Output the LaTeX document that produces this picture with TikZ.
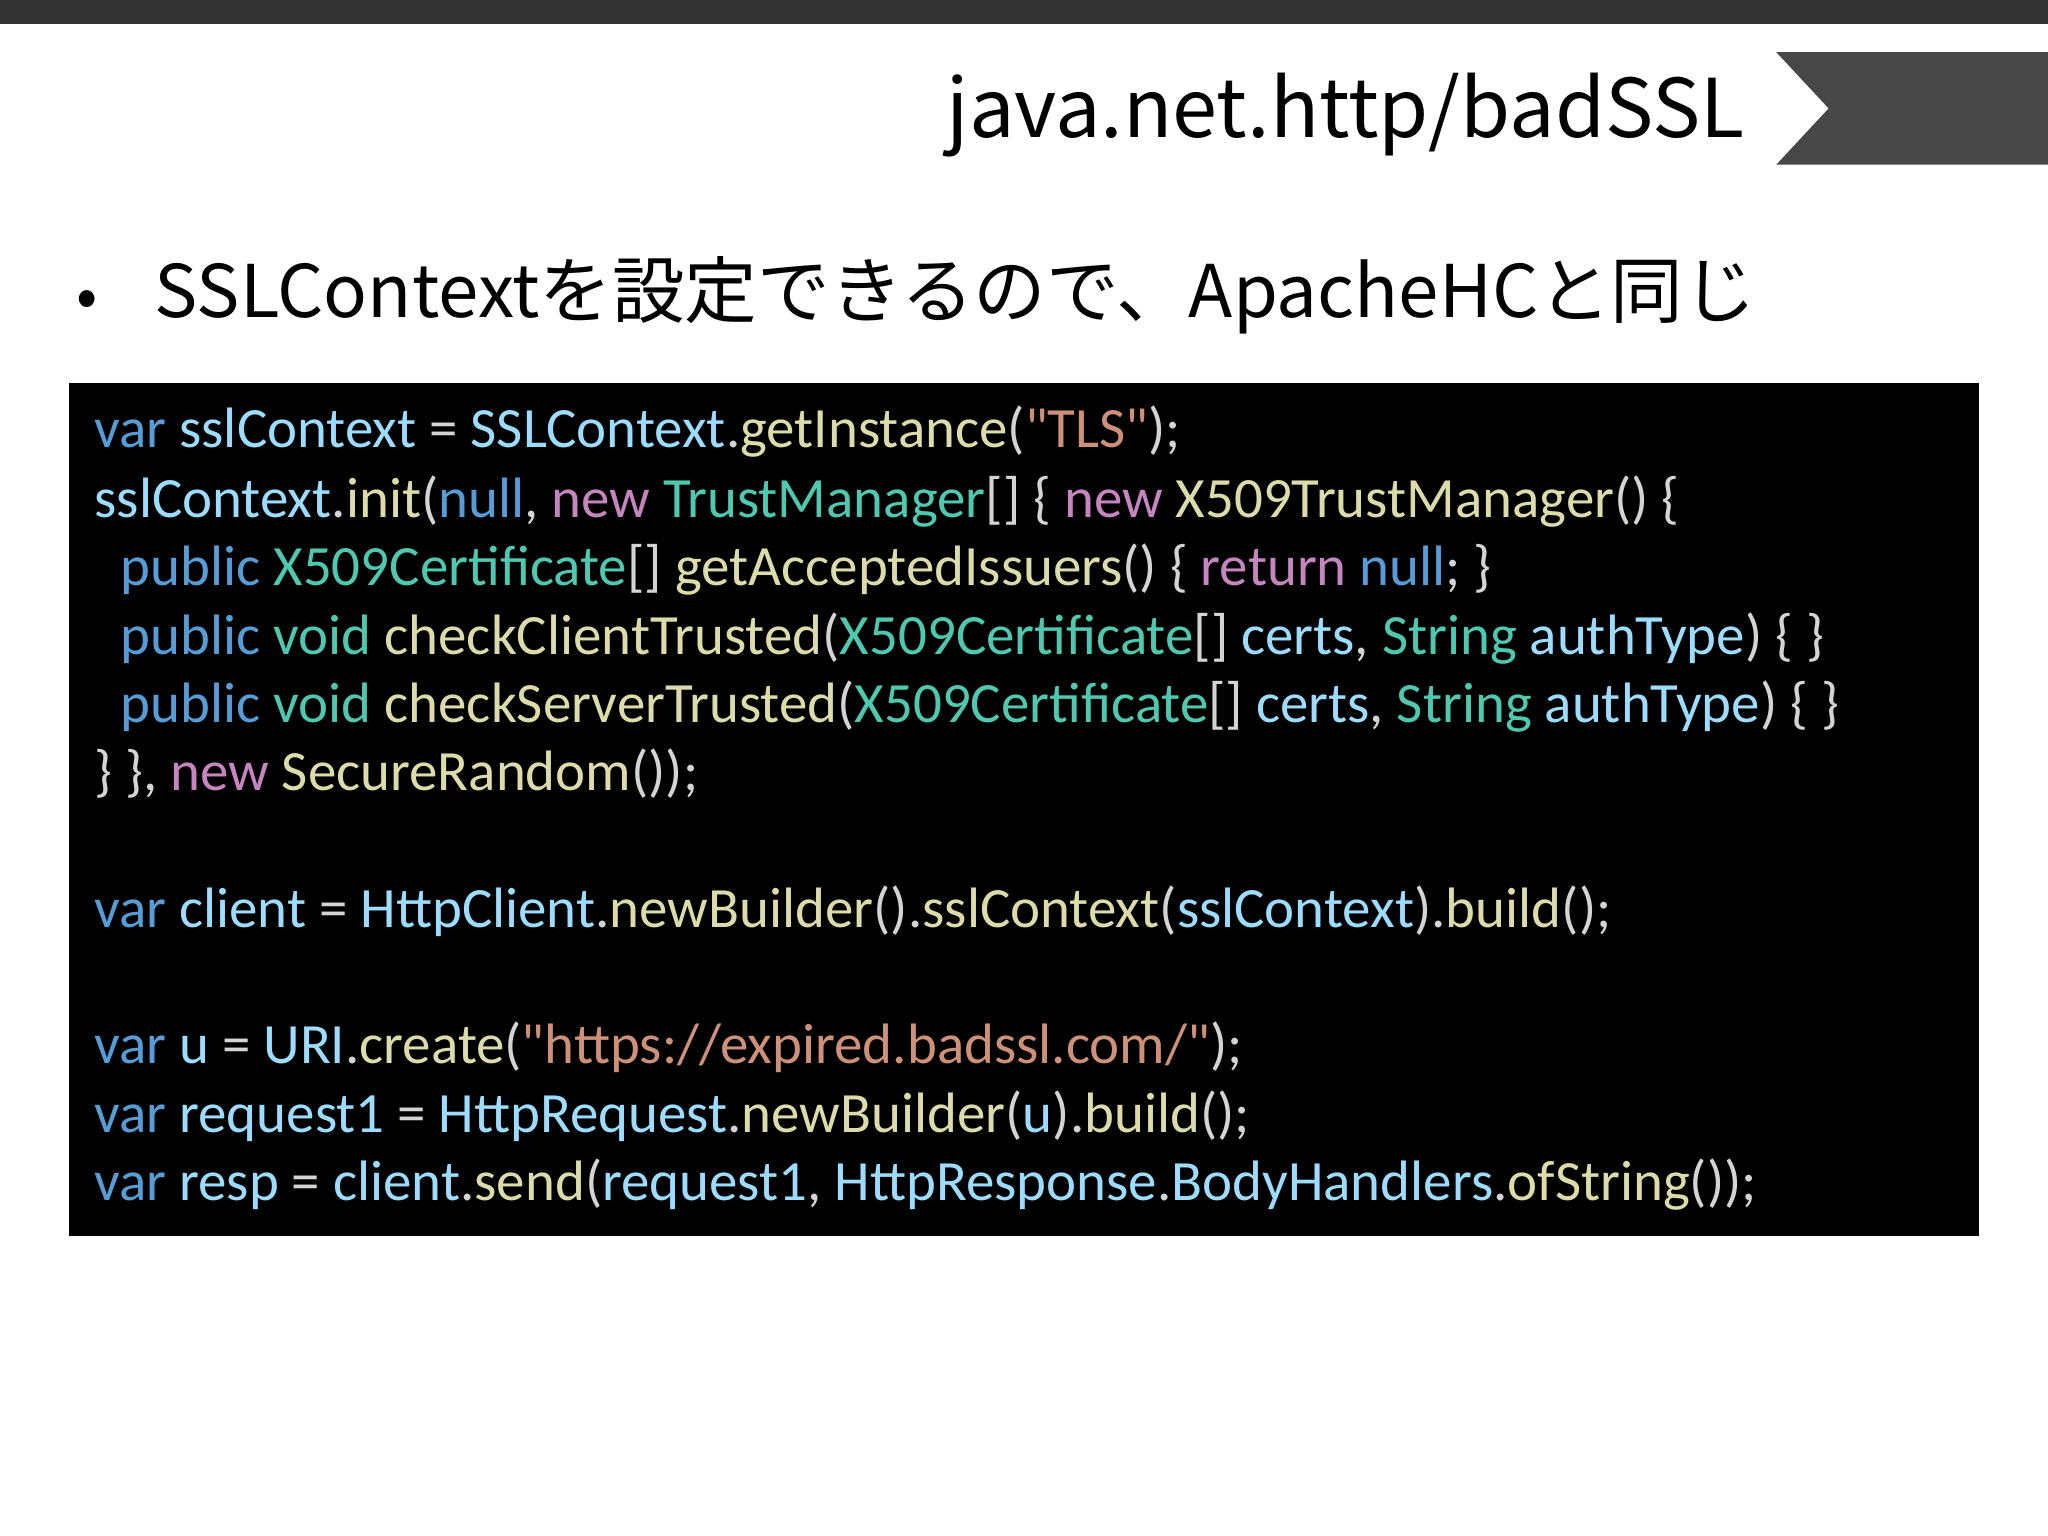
\documentclass[tikz,border=0pt]{standalone}
\usepackage{fontspec}
\newfontfamily\jp{Noto Sans CJK JP}
\newfontfamily\code{Carlito}
\definecolor{kw}{HTML}{569CD6}
\definecolor{pk}{HTML}{C586C0}
\definecolor{ty}{HTML}{4EC9B0}
\definecolor{fn}{HTML}{DCDCAA}
\definecolor{vr}{HTML}{9CDCFE}
\definecolor{st}{HTML}{CE9178}
\definecolor{pu}{HTML}{D4D4D4}
\newcommand\cK[1]{\textcolor{kw}{#1}}
\newcommand\cP[1]{\textcolor{pk}{#1}}
\newcommand\cT[1]{\textcolor{ty}{#1}}
\newcommand\cF[1]{\textcolor{fn}{#1}}
\newcommand\cV[1]{\textcolor{vr}{#1}}
\newcommand\cS[1]{\textcolor{st}{#1}}
\begin{document}
\begin{tikzpicture}[x=0.5pt,y=-0.5pt,
  cl/.style={anchor=base west,inner sep=0pt,font=\code\fontsize{21.8}{26}\selectfont,text=pu}]
\useasboundingbox (0,0) rectangle (1568,1176);
\fill[white] (0,0) rectangle (1568,1176);
\fill[black!80] (0,0) rectangle (1568,18);
\fill[black!72] (1360,40) -- (1568,40) -- (1568,126) -- (1360,126) -- (1400,83) -- cycle;
\node[anchor=base east,inner sep=0pt,font=\jp\fontsize{31}{36}\selectfont] (title) at (1336,105) {java.net.http/badSSL};
\node[anchor=base west,inner sep=0pt,font=\jp\fontsize{24}{30}\selectfont] (bul) at (58,243) {•};
\node[anchor=base west,inner sep=0pt,font=\jp\fontsize{27.8}{32}\selectfont] (txt) at (118,243) {SSLContextを設定できるので、ApacheHCと同じ};
\fill[black] (53,293) rectangle (1515,946);
\node[cl] (l1) at (72,343) {\cK{var} \cV{sslContext} = \cV{SSLContext}.\cF{getInstance}(\cS{"TLS"});};
\node[cl] (l2) at (72,396) {\cV{sslContext}.\cF{init}(\cK{null}, \cP{new} \cT{TrustManager}[] \{ \cP{new} \cF{X509TrustManager}() \{};
\node[cl] (l3) at (92,448) {\cK{public} \cT{X509Certificate}[] \cF{getAcceptedIssuers}() \{ \cP{return} \cK{null}; \}};
\node[cl] (l4) at (92,501) {\cK{public} \cT{void} \cF{checkClientTrusted}(\cT{X509Certificate}[] \cV{certs}, \cT{String} \cV{authType}) \{ \}};
\node[cl] (l5) at (92,553) {\cK{public} \cT{void} \cF{checkServerTrusted}(\cT{X509Certificate}[] \cV{certs}, \cT{String} \cV{authType}) \{ \}};
\node[cl] (l6) at (72,605) {\} \}, \cP{new} \cF{SecureRandom}());};
\node[cl] (l7) at (72,710) {\cK{var} \cV{client} = \cV{HttpClient}.\cF{newBuilder}().\cF{sslContext}(\cV{sslContext}).\cF{build}();};
\node[cl] (l8) at (72,814) {\cK{var} \cV{u} = \cV{URI}.\cF{create}(\cS{"https://expired.badssl.com/"});};
\node[cl] (l9) at (72,867) {\cK{var} \cV{request1} = \cV{HttpRequest}.\cF{newBuilder}(\cV{u}).\cF{build}();};
\node[cl] (l10) at (72,919) {\cK{var} \cV{resp} = \cV{client}.\cF{send}(\cV{request1}, \cV{HttpResponse}.\cV{BodyHandlers}.\cF{ofString}());};
\end{tikzpicture}
\end{document}
